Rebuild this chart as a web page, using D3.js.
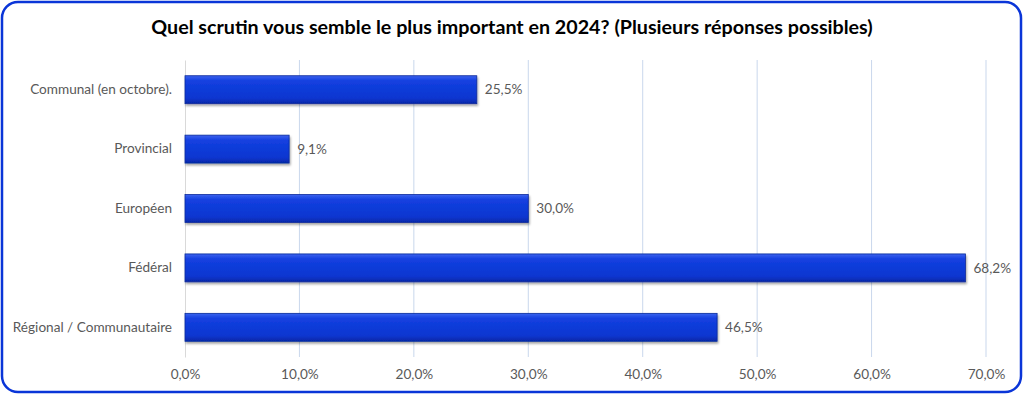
<!DOCTYPE html>
<html>
<head>
<meta charset="utf-8">
<script src="https://cdn.jsdelivr.net/npm/d3@7"></script>
<style>
  body { margin: 0; background: #fff; }
  svg { display: block; }
</style>
</head>
<body>
<div id="root"></div>
<script>
var categories = ["Communal (en octobre).", "Provincial", "Européen", "Fédéral", "Régional / Communautaire"];
var values = [25.5, 9.1, 30.0, 68.2, 46.5];
var ticks = [0, 10, 20, 30, 40, 50, 60, 70];
var title = "Quel scrutin vous semble le plus important en 2024? (Plusieurs réponses possibles)";

var W = 1024, H = 395;
var margin = { top: 60, right: 38, bottom: 38, left: 185 };
var width = W - margin.left - margin.right,
    height = H - margin.top - margin.bottom;

var font = "Lato, 'Open Sans', sans-serif";

var svg = d3.select("#root").append("svg")
    .attr("width", W)
    .attr("height", H);

// gradient for the bevelled bars
var defs = svg.append("defs");
var grad = defs.append("linearGradient")
    .attr("id", "barGrad")
    .attr("x1", 0).attr("y1", 0).attr("x2", 0).attr("y2", 1);
grad.append("stop").attr("offset", "0%").attr("stop-color", "#3c63ee");
grad.append("stop").attr("offset", "18%").attr("stop-color", "#1440e0");
grad.append("stop").attr("offset", "80%").attr("stop-color", "#0936d0");
grad.append("stop").attr("offset", "100%").attr("stop-color", "#0628a8");

var shadow = defs.append("filter").attr("id", "shadow")
    .attr("x", "-5%").attr("y", "-20%").attr("width", "110%").attr("height", "160%");
shadow.append("feDropShadow")
    .attr("dx", 1).attr("dy", 2).attr("stdDeviation", 1.2)
    .attr("flood-color", "#000").attr("flood-opacity", 0.35);

// outer frame
svg.append("rect")
    .attr("x", 2).attr("y", 2)
    .attr("width", W - 5).attr("height", H - 5)
    .attr("rx", 16).attr("ry", 16)
    .attr("fill", "#fff")
    .attr("stroke", "#0a35d8")
    .attr("stroke-width", 2.5);

svg.append("text")
    .attr("x", 512)
    .attr("y", 34)
    .attr("text-anchor", "middle")
    .attr("font-family", font)
    .attr("font-weight", "bold")
    .attr("font-size", 19.7)
    .attr("fill", "#000")
    .text(title);

var g = svg.append("g")
    .attr("transform", "translate(" + margin.left + "," + margin.top + ")");

var x = d3.scaleLinear()
    .domain([0, 70])
    .range([0, width]);

var y = d3.scaleBand()
    .domain(categories)
    .range([0, height])
    .paddingInner(0.53)
    .paddingOuter(0.265);

// vertical gridlines
g.append("g")
    .selectAll("line")
    .data(ticks.slice(1))
    .enter()
    .append("line")
    .attr("x1", function (d) { return x(d); })
    .attr("x2", function (d) { return x(d); })
    .attr("y1", 0)
    .attr("y2", height)
    .attr("stroke", "#c9d7ec")
    .attr("stroke-width", 1);

var pct = function (d) { return d3.format(".1f")(d).replace(".", ",") + "%"; };

// x axis labels
var xAxis = d3.axisBottom(x)
    .tickValues(ticks)
    .tickSize(0)
    .tickPadding(12)
    .tickFormat(pct);

var gx = g.append("g")
    .attr("transform", "translate(0," + height + ")")
    .call(xAxis);
gx.select(".domain").remove();
gx.selectAll("text")
    .attr("font-family", font)
    .attr("font-size", 13.6)
    .attr("fill", "#595959");

// y axis
var yAxis = d3.axisLeft(y)
    .tickSize(0)
    .tickPadding(13);

var gy = g.append("g").call(yAxis);
gy.select(".domain")
    .attr("stroke", "#d9d9d9");
gy.selectAll("text")
    .attr("font-family", font)
    .attr("font-size", 13.6)
    .attr("fill", "#595959");

var bars = g.selectAll(".bar")
    .data(values)
    .enter()
    .append("g");

bars.append("rect")
    .attr("class", "bar")
    .attr("x", 0)
    .attr("y", function (d, i) { return y(categories[i]); })
    .attr("width", function (d) { return x(d); })
    .attr("height", y.bandwidth())
    .attr("fill", "url(#barGrad)")
    .attr("stroke", "#0a2a9a")
    .attr("stroke-width", 0.8)
    .attr("filter", "url(#shadow)");

bars.append("text")
    .attr("x", function (d) { return x(d) + 8; })
    .attr("y", function (d, i) { return y(categories[i]) + y.bandwidth() / 2; })
    .attr("dy", "0.35em")
    .attr("font-family", font)
    .attr("font-size", 13.6)
    .attr("fill", "#595959")
    .text(pct);
</script>
</body>
</html>
